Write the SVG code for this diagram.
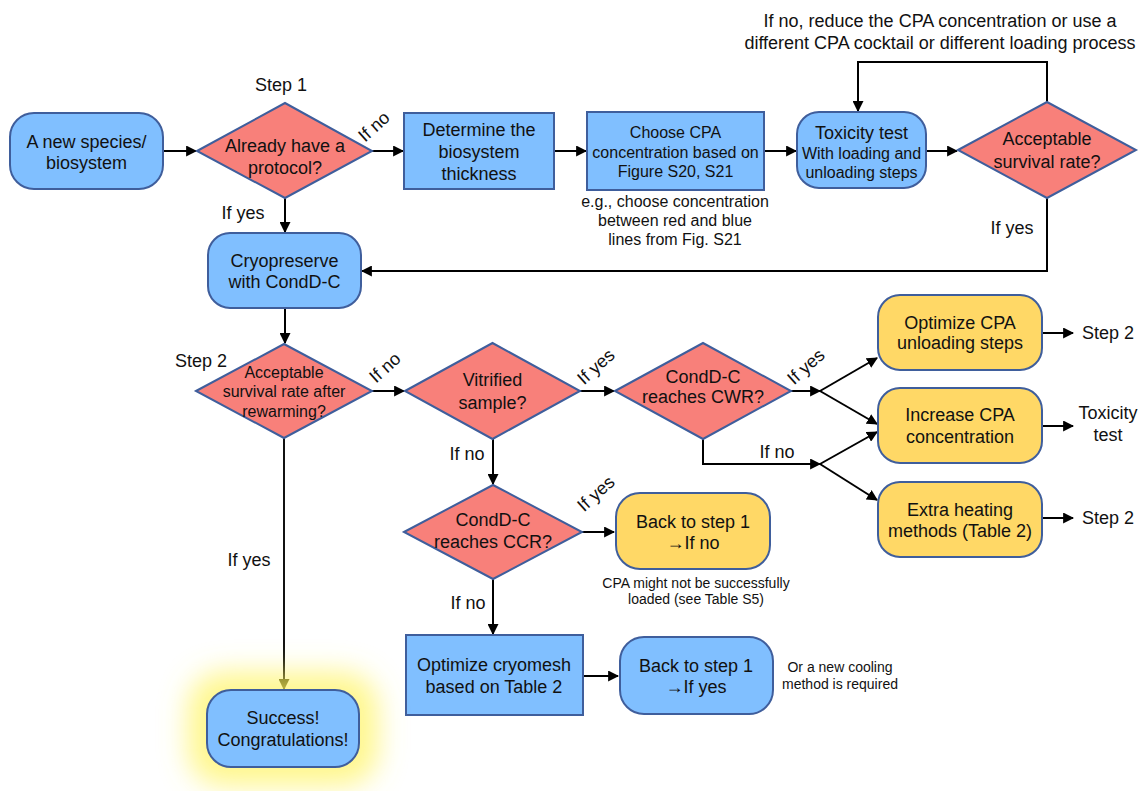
<svg xmlns="http://www.w3.org/2000/svg" width="1144" height="791" viewBox="0 0 1144 791">
<defs>
<style>
text{font-family:"Liberation Sans",Arial,sans-serif;fill:#111;text-anchor:middle}
.t18{font-size:18px}
.t16{font-size:16px}
.t14{font-size:14px}
.blue{fill:#80BFFF;stroke:#3F5E9C;stroke-width:2}
.red{fill:#F8807A;stroke:#3F5E9C;stroke-width:2}
.yel{fill:#FFD866;stroke:#3F5E9C;stroke-width:2}
.ln{fill:none;stroke:#000;stroke-width:2}
</style>
<marker id="ah" viewBox="0 0 10 10" refX="9" refY="5" markerWidth="5.5" markerHeight="5.5" orient="auto" markerUnits="strokeWidth">
<path d="M0,0 L10,5 L0,10 z" fill="#000"/>
</marker>
<marker id="aho" viewBox="0 0 10 10" refX="9" refY="5" markerWidth="5.5" markerHeight="5.5" orient="auto" markerUnits="strokeWidth">
<path d="M0,0 L10,5 L0,10 z" fill="#3A3A10"/>
</marker>
<filter id="glow" x="-60%" y="-60%" width="220%" height="220%">
<feGaussianBlur stdDeviation="14"/>
</filter>
</defs>

<!-- free texts -->
<text class="t18" x="940" y="27">If no, reduce the CPA concentration or use a</text>
<text class="t18" x="940" y="49">different CPA cocktail or different loading process</text>
<text class="t18" x="281" y="91">Step 1</text>
<text class="t18" x="201" y="367">Step 2</text>
<text class="t16" x="675" y="206.5">e.g., choose concentration</text>
<text class="t16" x="675" y="225.5">between red and blue</text>
<text class="t16" x="675" y="244.5">lines from Fig. S21</text>
<text class="t14" x="696" y="588">CPA might not be successfully</text>
<text class="t14" x="696" y="604">loaded (see Table S5)</text>
<text class="t14" x="840" y="672">Or a new cooling</text>
<text class="t14" x="840" y="689">method is required</text>
<text class="t18" x="1108" y="339">Step 2</text>
<text class="t18" x="1108" y="419">Toxicity</text>
<text class="t18" x="1108" y="441">test</text>
<text class="t18" x="1108" y="524">Step 2</text>

<!-- connectors -->
<g id="connectors">
<path class="ln" d="M163,151 H196" marker-end="url(#ah)"/>
<path class="ln" d="M285,198 V232" marker-end="url(#ah)"/>
<path class="ln" d="M372,151 H403" marker-end="url(#ah)"/>
<path class="ln" d="M554,151 H586" marker-end="url(#ah)"/>
<path class="ln" d="M764,151 H796" marker-end="url(#ah)"/>
<path class="ln" d="M926,151 H957" marker-end="url(#ah)"/>
<path class="ln" d="M1047,102 V62 H858 V111" marker-end="url(#ah)"/>
<path class="ln" d="M1047,198 V271 H362" marker-end="url(#ah)"/>
<path class="ln" d="M285,308 V343" marker-end="url(#ah)"/>
<path class="ln" d="M372,391 H404" marker-end="url(#ah)"/>
<path class="ln" d="M580,391 H614" marker-end="url(#ah)"/>
<path class="ln" d="M791,391 H820" marker-end="url(#ah)"/>
<path class="ln" d="M820,391 L877,358" marker-end="url(#ah)"/>
<path class="ln" d="M820,391 L877,424" marker-end="url(#ah)"/>
<path class="ln" d="M703,439 V464 H820" marker-end="url(#ah)"/>
<path class="ln" d="M820,464 L877,432" marker-end="url(#ah)"/>
<path class="ln" d="M820,464 L877,500" marker-end="url(#ah)"/>
<path class="ln" d="M1042,333 H1073" marker-end="url(#ah)"/>
<path class="ln" d="M1042,426 H1073" marker-end="url(#ah)"/>
<path class="ln" d="M1042,518 H1073" marker-end="url(#ah)"/>
<path class="ln" d="M493,439 V484" marker-end="url(#ah)"/>
<path class="ln" d="M582,532 H614" marker-end="url(#ah)"/>
<path class="ln" d="M493,579 V634" marker-end="url(#ah)"/>
<path class="ln" d="M583,676 H618" marker-end="url(#ah)"/>
<path d="M284,438 V689" fill="none" stroke="#111" stroke-width="2" marker-end="url(#aho)"/>
<text class="t18" x="243" y="219">If yes</text>
<text class="t18" x="1012" y="234">If yes</text>
<text class="t18" x="467" y="460">If no</text>
<text class="t18" x="777" y="458">If no</text>
<text class="t18" x="468" y="609">If no</text>
<text class="t18" x="249" y="566">If yes</text>
<text class="t18" transform="translate(378,131) rotate(-42)">If no</text>
<text class="t18" transform="translate(389,372) rotate(-42)">If no</text>
<text class="t18" transform="translate(600,371) rotate(-42)">If yes</text>
<text class="t18" transform="translate(810,371) rotate(-42)">If yes</text>
<text class="t18" transform="translate(600,498) rotate(-42)">If yes</text>
</g>

<!-- nodes -->
<g id="n-start">
<rect class="blue" x="10" y="113" width="153" height="76" rx="24"/>
<text class="t18" x="86.5" y="148">A new species/</text>
<text class="t18" x="86.5" y="169">biosystem</text>
</g>
<g id="d-protocol">
<polygon class="red" points="197,151 285,103 372,151 285,198"/>
<text class="t18" x="285" y="152">Already have a</text>
<text class="t18" x="285" y="174">protocol?</text>
</g>
<g id="n-thickness">
<rect class="blue" x="404" y="113" width="150" height="76"/>
<text class="t18" x="479" y="136">Determine the</text>
<text class="t18" x="479" y="158">biosystem</text>
<text class="t18" x="479" y="180">thickness</text>
</g>
<g id="n-choose">
<rect class="blue" x="587" y="112" width="177" height="78"/>
<text class="t16" x="675.5" y="137.5">Choose CPA</text>
<text class="t16" x="675.5" y="157.5">concentration based on</text>
<text class="t16" x="675.5" y="176.5">Figure S20, S21</text>
</g>
<g id="n-toxicity">
<rect class="blue" x="797" y="112" width="129" height="76" rx="22"/>
<text class="t18" x="861.5" y="139">Toxicity test</text>
<text class="t16" x="861.5" y="158.5">With loading and</text>
<text class="t16" x="861.5" y="177.5">unloading steps</text>
</g>
<g id="d-survival">
<polygon class="red" points="958,150 1047,102 1136,150 1047,198"/>
<text class="t18" x="1047" y="145">Acceptable</text>
<text class="t18" x="1047" y="168">survival rate?</text>
</g>
<g id="n-cryopreserve">
<rect class="blue" x="208" y="233" width="153" height="75" rx="22"/>
<text class="t18" x="284.5" y="267">Cryopreserve</text>
<text class="t18" x="284.5" y="288">with CondD-C</text>
</g>
<g id="d-rewarming">
<polygon class="red" points="196,391 284,344 372,391 284,438"/>
<text class="t16" x="284" y="377.5">Acceptable</text>
<text class="t16" x="284" y="396.5">survival rate after</text>
<text class="t16" x="284" y="416.5">rewarming?</text>
</g>
<g id="d-vitrified">
<polygon class="red" points="405,391 492.5,343 580,391 492.5,439"/>
<text class="t18" x="492.5" y="386">Vitrified</text>
<text class="t18" x="492.5" y="409">sample?</text>
</g>
<g id="d-cwr">
<polygon class="red" points="615,391 703,343 791,391 703,439"/>
<text class="t18" x="703" y="383">CondD-C</text>
<text class="t18" x="703" y="403">reaches CWR?</text>
</g>
<g id="n-unloading">
<rect class="yel" x="878" y="295" width="164" height="75" rx="22"/>
<text class="t18" x="960" y="329">Optimize CPA</text>
<text class="t18" x="960" y="349">unloading steps</text>
</g>
<g id="n-increase">
<rect class="yel" x="878" y="388" width="164" height="75" rx="22"/>
<text class="t18" x="960" y="421">Increase CPA</text>
<text class="t18" x="960" y="443">concentration</text>
</g>
<g id="n-heating">
<rect class="yel" x="878" y="482" width="164" height="75" rx="22"/>
<text class="t18" x="960" y="516">Extra heating</text>
<text class="t18" x="960" y="537">methods (Table 2)</text>
</g>
<g id="d-ccr">
<polygon class="red" points="404,532 493,485 582,532 493,579"/>
<text class="t18" x="493" y="526">CondD-C</text>
<text class="t18" x="493" y="548">reaches CCR?</text>
</g>
<g id="n-back-no">
<rect class="yel" x="616" y="493" width="154" height="76" rx="24"/>
<text class="t18" x="693" y="528">Back to step 1</text>
<text class="t18" x="693" y="549">→If no</text>
</g>
<g id="n-cryomesh">
<rect class="blue" x="406" y="635" width="177" height="80"/>
<text class="t18" x="494" y="671">Optimize cryomesh</text>
<text class="t18" x="494" y="693">based on Table 2</text>
</g>
<g id="n-back-yes">
<rect class="blue" x="620" y="637" width="153" height="77" rx="24"/>
<text class="t18" x="696" y="672">Back to step 1</text>
<text class="t18" x="696" y="693">→If yes</text>
</g>
<g id="n-success">
<rect x="188" y="672" width="190" height="114" rx="36" fill="#FFF45C" fill-opacity="0.7" filter="url(#glow)"/>
<rect class="blue" x="207" y="690" width="152" height="77" rx="24"/>
<text class="t18" x="283" y="724">Success!</text>
<text class="t18" x="283" y="746">Congratulations!</text>
</g>
</svg>
